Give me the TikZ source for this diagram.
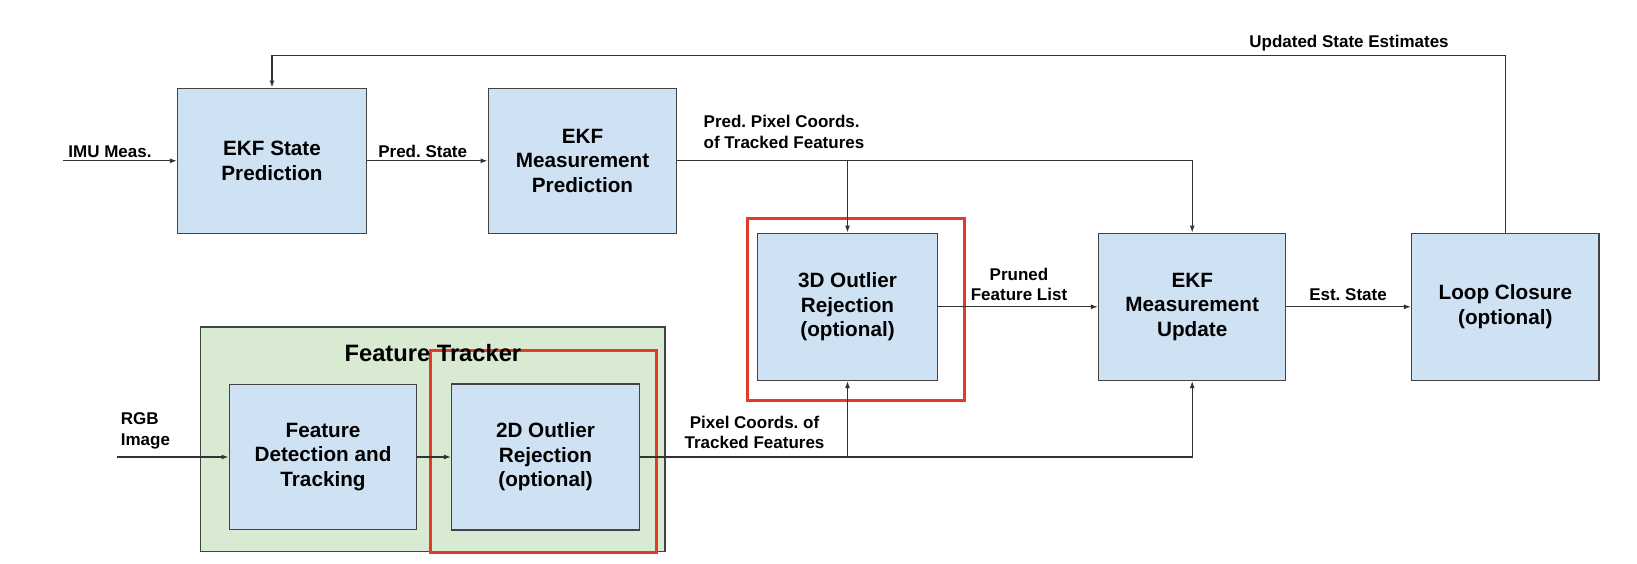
\documentclass[tikz,border=0pt]{standalone}
\usepackage{fontspec}
\setmainfont{Liberation Sans}
\usetikzlibrary{arrows.meta}
\definecolor{boxblue}{HTML}{CFE2F3}
\definecolor{boxgreen}{HTML}{D9EAD3}
\definecolor{hlred}{HTML}{E33B25}
\definecolor{edgegray}{HTML}{434343}
\definecolor{linegray}{HTML}{333333}
\frenchspacing
\begin{document}
\begin{tikzpicture}[x=1pt,y=-1pt,
  blk/.style={draw=edgegray, line width=1.5pt, fill=boxblue, align=center,
    font=\fontsize{20.7}{24.5}\selectfont\bfseries, inner sep=0pt},
  grp/.style={draw=edgegray, line width=1.5pt, fill=boxgreen, inner sep=0pt},
  lbl/.style={align=center, font=\fontsize{17}{20.5}\selectfont\bfseries, inner sep=0pt},
  ttl/.style={font=\fontsize{23.7}{28}\selectfont\bfseries, inner sep=0pt},
  conn/.style={draw=linegray, line width=1.2pt},
  arr/.style={conn, -{Latex[length=7pt,width=5pt]}},
  hl/.style={draw=hlred, line width=3pt, inner sep=0pt}
]
\useasboundingbox (0,0) rectangle (1637,564);

% Feature tracker group
\node[grp, minimum width=464.3pt, minimum height=224.3pt] (ft) at (432.85,439.15) {};

% blocks
\node[blk, minimum width=188.6pt, minimum height=145pt] (esp) at (272,160.8) {EKF State\\Prediction};
\node[blk, minimum width=188.4pt, minimum height=145pt] (emp) at (582.5,160.8) {EKF\\Measurement\\Prediction};
\node[blk, minimum width=179.6pt, minimum height=147pt] (od3) at (847.5,306.8) {3D Outlier\\Rejection\\(optional)};
\node[blk, minimum width=187pt, minimum height=147pt] (emu) at (1192.2,306.8) {EKF\\Measurement\\Update};
\node[blk, minimum width=187.3pt, minimum height=147pt] (lc) at (1505.3,306.8) {Loop Closure\\(optional)};
\node[blk, minimum width=187.4pt, minimum height=145.4pt] (fdt) at (323,457) {Feature\\Detection and\\Tracking};
\node[blk, minimum width=187.6pt, minimum height=146pt] (od2) at (545.5,457) {2D Outlier\\Rejection\\(optional)};

% highlight boxes
\node[hl, minimum width=216.3pt, minimum height=182pt] (r1) at (855.85,309.3) {};
\node[hl, minimum width=226pt, minimum height=201.7pt] (r2) at (543.7,451.15) {};

\node[ttl] (fttitle) at (432.9,353.5) {Feature Tracker};

% connectors
\coordinate (imuin) at (63,160.8);
\coordinate (rgbin) at (116.7,457);
\coordinate (fbk) at (0,55.7);

\draw[arr] (imuin) -- (esp.west);
\draw[arr] (esp.east) -- (emp.west);
\draw[arr] (emp.east) -| (emu.north);
\draw[arr] (od3.north |- emp.east) -- (od3.north);
\draw[arr] (od3.east) -- (emu.west);
\draw[arr] (emu.east) -- (lc.west);
\draw[arr] (lc.north) |- (fbk -| esp.north) -- (esp.north);
\draw[arr] (rgbin) -- (fdt.west);
\draw[arr] (fdt.east) -- (od2.west);
\draw[arr] (od2.east) -| (emu.south);
\draw[arr] (od3.south |- od2.east) -- (od3.south);

% labels
\node[lbl] (limu) at (110,152) {IMU Meas.};
\node[lbl] (lps) at (422.7,151) {Pred. State};
\node[lbl, align=left] (lppc) at (784,132) {Pred. Pixel Coords.\\of Tracked Features};
\node[lbl] (lupd) at (1349,42.7) {Updated State Estimates};
\node[lbl] (lpfl) at (1019,284.5) {Pruned\\Feature List};
\node[lbl] (lest) at (1348,295) {Est. State};
\node[lbl, align=left, anchor=west] (lrgb) at (120.7,431) {RGB\\Image};
\node[lbl] (lpc) at (754.5,432.5) {Pixel Coords. of\\Tracked Features};
\end{tikzpicture}
\end{document}
